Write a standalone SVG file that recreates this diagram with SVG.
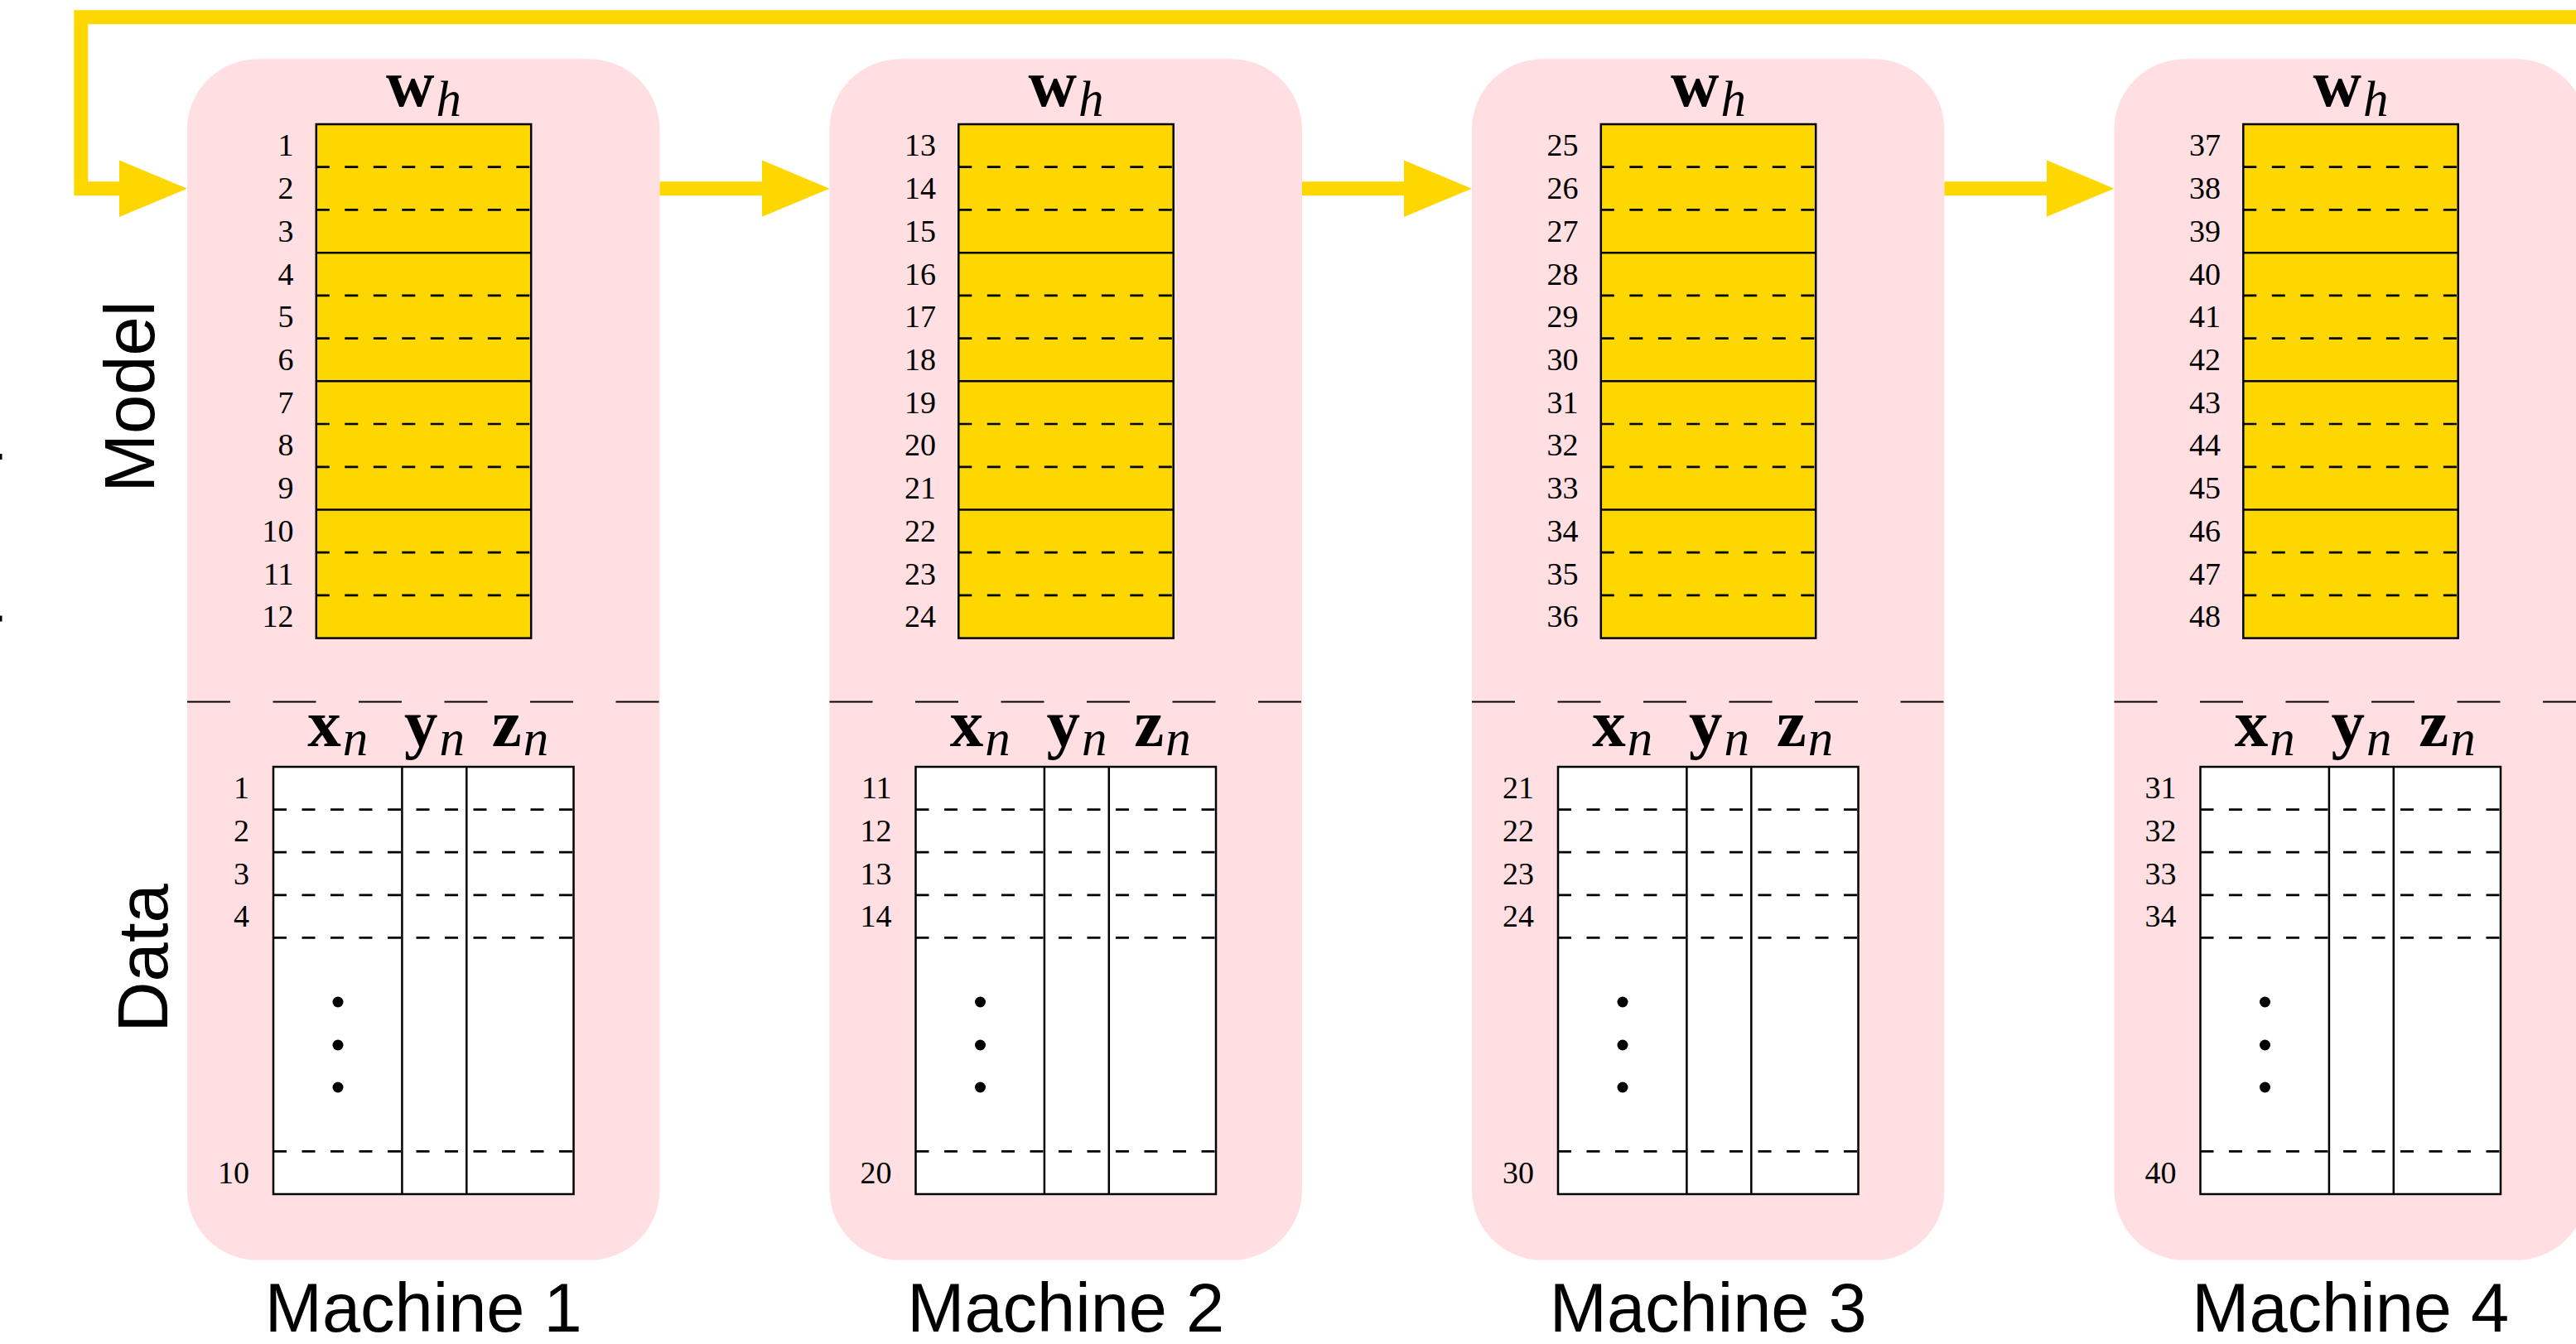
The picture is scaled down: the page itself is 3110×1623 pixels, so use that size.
<svg xmlns="http://www.w3.org/2000/svg" width="3110" height="1623" viewBox="0 0 3110 1623">
<style>
.box{fill:#FFDFE1;stroke:none}
.mt{fill:#FFD700;stroke:#000;stroke-width:2.5}
.dt{fill:#fff;stroke:#000;stroke-width:2.5}
.sl{stroke:#000;stroke-width:2.5;fill:none}
.dl{stroke:#000;stroke-width:2.7;fill:none;stroke-dasharray:16 18.5}
.sep{stroke:#000;stroke-width:2.2;fill:none;stroke-dasharray:52 51.5}
.num{font-family:"Liberation Serif",serif;font-size:38px;text-anchor:end;fill:#000}
.hdr{font-family:"Liberation Serif",serif;text-anchor:middle;fill:#000}
.b{font-weight:bold;font-size:81px;letter-spacing:2px}
.i{font-style:italic;font-size:61px}
.lab{font-family:"Liberation Sans",Arial,sans-serif;font-size:83px;text-anchor:middle;fill:#000}
.side{font-family:"Liberation Sans",Arial,sans-serif;font-size:85px;text-anchor:middle;fill:#000}
.conn{stroke:#FFD700;stroke-width:17;fill:none;stroke-linejoin:miter}
</style>
<defs>
<marker id="ah" markerUnits="userSpaceOnUse" markerWidth="82" markerHeight="69" viewBox="0 0 82 68.6" refX="1" refY="34.3" orient="auto">
<path d="M0,0L82,34.3L0,68.6z" fill="#FFD700"/>
</marker>
<g id="frame">
<rect class="box" x="226" y="71.3" width="570.5" height="1450.5" rx="85" ry="85"/>
<text class="hdr" x="511.5" y="128"><tspan class="b">w</tspan><tspan class="i" dy="12">h</tspan></text>
<rect class="mt" x="381.8" y="150" width="259.4" height="620.6"/>
<line class="dl" x1="381.8" x2="641.2" y1="201.7" y2="201.7"/>
<line class="dl" x1="381.8" x2="641.2" y1="253.4" y2="253.4"/>
<line class="sl" x1="381.8" x2="641.2" y1="305.2" y2="305.2"/>
<line class="dl" x1="381.8" x2="641.2" y1="356.9" y2="356.9"/>
<line class="dl" x1="381.8" x2="641.2" y1="408.6" y2="408.6"/>
<line class="sl" x1="381.8" x2="641.2" y1="460.3" y2="460.3"/>
<line class="dl" x1="381.8" x2="641.2" y1="512.0" y2="512.0"/>
<line class="dl" x1="381.8" x2="641.2" y1="563.8" y2="563.8"/>
<line class="sl" x1="381.8" x2="641.2" y1="615.5" y2="615.5"/>
<line class="dl" x1="381.8" x2="641.2" y1="667.2" y2="667.2"/>
<line class="dl" x1="381.8" x2="641.2" y1="718.9" y2="718.9"/>
<line class="sep" x1="226" x2="796.5" y1="847.5" y2="847.5"/>
<text class="hdr" x="407.7" y="901"><tspan class="b">x</tspan><tspan class="i" dy="11">n</tspan></text>
<text class="hdr" x="524.4" y="901"><tspan class="b">y</tspan><tspan class="i" dy="11">n</tspan></text>
<text class="hdr" x="628" y="901"><tspan class="b">z</tspan><tspan class="i" dy="11">n</tspan></text>
<rect class="dt" x="330" y="926" width="362.5" height="516"/>
<line class="sl" x1="485.4" x2="485.4" y1="926" y2="1442"/>
<line class="sl" x1="563.3" x2="563.3" y1="926" y2="1442"/>
<line class="dl" x1="330" x2="692.5" y1="977.6" y2="977.6"/>
<line class="dl" x1="330" x2="692.5" y1="1029.2" y2="1029.2"/>
<line class="dl" x1="330" x2="692.5" y1="1080.8" y2="1080.8"/>
<line class="dl" x1="330" x2="692.5" y1="1132.4" y2="1132.4"/>
<line class="dl" x1="330" x2="692.5" y1="1390.4" y2="1390.4"/>
<circle cx="408" cy="1210" r="6.5" fill="#000"/>
<circle cx="408" cy="1262" r="6.5" fill="#000"/>
<circle cx="408" cy="1313" r="6.5" fill="#000"/>
</g>
</defs>

<rect x="0" y="548" width="2.5" height="7" fill="#000"/>
<rect x="0" y="743.5" width="2.5" height="7" fill="#000"/>
<text class="side" transform="translate(185.7,479) rotate(-90)" x="0" y="0">Model</text>
<text class="side" transform="translate(201.7,1157) rotate(-90)" x="0" y="0">Data</text>

<g id="machine1">
<use href="#frame"/>
<text class="num" x="354.6" y="188.4">1</text>
<text class="num" x="354.6" y="240.1">2</text>
<text class="num" x="354.6" y="291.8">3</text>
<text class="num" x="354.6" y="343.5">4</text>
<text class="num" x="354.6" y="395.2">5</text>
<text class="num" x="354.6" y="447.0">6</text>
<text class="num" x="354.6" y="498.7">7</text>
<text class="num" x="354.6" y="550.4">8</text>
<text class="num" x="354.6" y="602.1">9</text>
<text class="num" x="354.6" y="653.8">10</text>
<text class="num" x="354.6" y="705.6">11</text>
<text class="num" x="354.6" y="757.3">12</text>
<text class="num" x="301" y="964.3">1</text>
<text class="num" x="301" y="1015.9">2</text>
<text class="num" x="301" y="1067.5">3</text>
<text class="num" x="301" y="1119.1">4</text>
<text class="num" x="301" y="1429">10</text>
<text class="lab" x="511.25" y="1608">Machine 1</text>
</g>

<g id="machine2" transform="translate(775.5,0)">
<use href="#frame"/>
<text class="num" x="354.6" y="188.4">13</text>
<text class="num" x="354.6" y="240.1">14</text>
<text class="num" x="354.6" y="291.8">15</text>
<text class="num" x="354.6" y="343.5">16</text>
<text class="num" x="354.6" y="395.2">17</text>
<text class="num" x="354.6" y="447.0">18</text>
<text class="num" x="354.6" y="498.7">19</text>
<text class="num" x="354.6" y="550.4">20</text>
<text class="num" x="354.6" y="602.1">21</text>
<text class="num" x="354.6" y="653.8">22</text>
<text class="num" x="354.6" y="705.6">23</text>
<text class="num" x="354.6" y="757.3">24</text>
<text class="num" x="301" y="964.3">11</text>
<text class="num" x="301" y="1015.9">12</text>
<text class="num" x="301" y="1067.5">13</text>
<text class="num" x="301" y="1119.1">14</text>
<text class="num" x="301" y="1429">20</text>
<text class="lab" x="511.25" y="1608">Machine 2</text>
</g>

<g id="machine3" transform="translate(1551,0)">
<use href="#frame"/>
<text class="num" x="354.6" y="188.4">25</text>
<text class="num" x="354.6" y="240.1">26</text>
<text class="num" x="354.6" y="291.8">27</text>
<text class="num" x="354.6" y="343.5">28</text>
<text class="num" x="354.6" y="395.2">29</text>
<text class="num" x="354.6" y="447.0">30</text>
<text class="num" x="354.6" y="498.7">31</text>
<text class="num" x="354.6" y="550.4">32</text>
<text class="num" x="354.6" y="602.1">33</text>
<text class="num" x="354.6" y="653.8">34</text>
<text class="num" x="354.6" y="705.6">35</text>
<text class="num" x="354.6" y="757.3">36</text>
<text class="num" x="301" y="964.3">21</text>
<text class="num" x="301" y="1015.9">22</text>
<text class="num" x="301" y="1067.5">23</text>
<text class="num" x="301" y="1119.1">24</text>
<text class="num" x="301" y="1429">30</text>
<text class="lab" x="511.25" y="1608">Machine 3</text>
</g>

<g id="machine4" transform="translate(2326.5,0)">
<use href="#frame"/>
<text class="num" x="354.6" y="188.4">37</text>
<text class="num" x="354.6" y="240.1">38</text>
<text class="num" x="354.6" y="291.8">39</text>
<text class="num" x="354.6" y="343.5">40</text>
<text class="num" x="354.6" y="395.2">41</text>
<text class="num" x="354.6" y="447.0">42</text>
<text class="num" x="354.6" y="498.7">43</text>
<text class="num" x="354.6" y="550.4">44</text>
<text class="num" x="354.6" y="602.1">45</text>
<text class="num" x="354.6" y="653.8">46</text>
<text class="num" x="354.6" y="705.6">47</text>
<text class="num" x="354.6" y="757.3">48</text>
<text class="num" x="301" y="964.3">31</text>
<text class="num" x="301" y="1015.9">32</text>
<text class="num" x="301" y="1067.5">33</text>
<text class="num" x="301" y="1119.1">34</text>
<text class="num" x="301" y="1429">40</text>
<text class="lab" x="511.25" y="1608">Machine 4</text>
</g>

<g id="connectors">
<path class="conn" d="M3130,20.8 H97.8 V227.7 H145" marker-end="url(#ah)"/>
<path class="conn" d="M796.5,227.7 H920.5" marker-end="url(#ah)"/>
<path class="conn" d="M1572,227.7 H1696" marker-end="url(#ah)"/>
<path class="conn" d="M2347.5,227.7 H2471.5" marker-end="url(#ah)"/>
</g>
</svg>
